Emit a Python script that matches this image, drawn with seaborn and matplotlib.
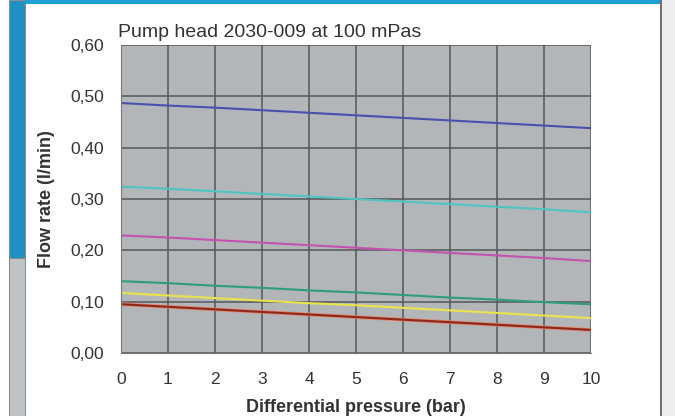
import pandas as pd
import numpy as np
import matplotlib
matplotlib.use("Agg")
import matplotlib.pyplot as plt
import seaborn as sns
from matplotlib.patches import Rectangle

# values, flow rate (l/min) at 0..10 bar
pressure = [0, 1, 2, 3, 4, 5, 6, 7, 8, 9, 10]
blue = [0.487, 0.482, 0.478, 0.473, 0.468, 0.463, 0.458, 0.453, 0.448, 0.443, 0.438]
cyan = [0.324, 0.320, 0.315, 0.310, 0.305, 0.300, 0.295, 0.290, 0.285, 0.280, 0.274]
magenta = [0.229, 0.225, 0.220, 0.215, 0.210, 0.205, 0.200, 0.195, 0.190, 0.185, 0.179]
green = [0.140, 0.136, 0.131, 0.127, 0.122, 0.118, 0.113, 0.108, 0.104, 0.099, 0.095]
yellow = [0.117, 0.112, 0.107, 0.102, 0.097, 0.093, 0.088, 0.083, 0.078, 0.073, 0.068]
red = [0.095, 0.090, 0.085, 0.080, 0.075, 0.070, 0.065, 0.060, 0.055, 0.050, 0.045]

series = {"blue": blue, "cyan": cyan, "magenta": magenta,
          "green": green, "yellow": yellow, "red": red}
colors = {"blue": "#4a4fb0", "cyan": "#4ec4c4", "magenta": "#c452b0",
          "green": "#2f9e78", "yellow": "#ebe34e", "red": "#8a2a1c"}

df = pd.concat([pd.DataFrame({"pressure": pressure, "flow": v, "curve": k})
                for k, v in series.items()])

sns.set_style("white")
plt.rcParams['font.family'] = ['Liberation Sans', 'DejaVu Sans']

fig = plt.figure(figsize=(6.75, 4.16), dpi=100)

# page decoration: side bar, top bar, right border
fig.patches.append(Rectangle((9/675, 0), 16/675, 1 - 258/416, transform=fig.transFigure,
                             facecolor="#bfc3c6", edgecolor="#8a8e91", lw=0.8, zorder=0))
fig.patches.append(Rectangle((9/675, 1 - 258/416), 16/675, 258/416, transform=fig.transFigure,
                             facecolor="#1f8fc4", edgecolor="#8a8e91", lw=0.8, zorder=0))
fig.patches.append(Rectangle((25/675, 1 - 4/416), 635/675, 4/416, transform=fig.transFigure,
                             facecolor="#1f9fd4", edgecolor="none", zorder=0))
fig.patches.append(Rectangle((660/675, 0), 2/675, 1, transform=fig.transFigure,
                             facecolor="#6f7275", edgecolor="none", zorder=0))
fig.patches.append(Rectangle((662/675, 0), 13/675, 1, transform=fig.transFigure,
                             facecolor="#eeeeee", edgecolor="none", zorder=0))

ax = fig.add_axes([121/675, 63/416, 470/675, 308/416])
ax.set_facecolor("#b3b6b8")

# red curve has an orange rim
sns.lineplot(data=df[df.curve == "red"], x="pressure", y="flow", color="#e8806a",
             lw=2.6, ax=ax, legend=False)
sns.lineplot(data=df, x="pressure", y="flow", hue="curve", palette=colors,
             lw=1.5, ax=ax, legend=False)

ax.set_xlim(0, 10)
ax.set_ylim(0, 0.6)
ax.set_xticks(range(0, 11))
ax.set_yticks(np.arange(0, 0.61, 0.1))
ax.set_yticklabels([f"{v:.2f}".replace(".", ",") for v in np.arange(0, 0.61, 0.1)])
ax.grid(True, color="#55575a", lw=1.1)
ax.set_axisbelow(True)
for s in ["top", "right"]:
    ax.spines[s].set_visible(False)
for s in ["left", "bottom"]:
    ax.spines[s].set_color("#777777")
ax.tick_params(axis="both", labelsize=12.5, colors="#333333", length=3, width=0.8)
ax.tick_params(axis="x", pad=11)
ax.tick_params(axis="y", pad=9)

ax.set_xlabel("Differential pressure (bar)", fontsize=13, fontweight="bold",
              color="#333333", labelpad=8)
ax.set_ylabel("Flow rate (l/min)", fontsize=13, fontweight="bold", color="#333333",
              labelpad=11)
ax.set_title("Pump head 2030-009 at 100 mPas", fontsize=14, loc="left", x=-0.007,
             color="#333333", pad=6)

fig.savefig("out.png", dpi=100)
